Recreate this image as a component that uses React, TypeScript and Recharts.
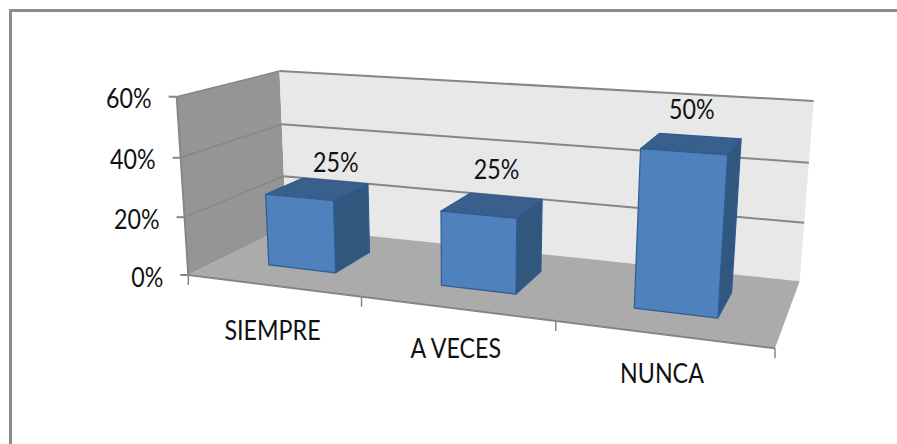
import React from "react";
import { BarChart, Bar, XAxis, YAxis } from "recharts";

const categories = ["SIEMPRE", "A VECES", "NUNCA"];
const percents = [25, 25, 50];
const valueTicks = [0, 20, 40, 60];

const data = categories.map((name, i) => ({ name, percent: percents[i] }));

const WIDTH = 897;
const HEIGHT = 444;
const FONT = "Lato, 'Liberation Sans', sans-serif";
const LINE = "#868686";

// flat plot rectangle handed to Recharts; everything is then bent into the 3D box
const PLOT = { left: 200, top: 60, width: 540, height: 240 };

// perspective box: screen position and homogeneous weight of each axis end
const ORIGIN = { x: 188.3, y: 275 };
const END_U = { x: 775, y: 348.3, k: 0.838 };
const END_V = { x: 176.7, y: 96.7, k: 0.96 };
const END_W = { x: 286, y: 227, k: 1.15 };

// bar depth inside the box (gap depth 150%)
const BAR_FRONT = 0.3;
const BAR_BACK = 0.7;

// hand placed text offsets, one per category
const labelNudge = [
  { dx: 18, dy: -27 },
  { dx: 4, dy: -36 },
  { dx: 0, dy: -34 },
];
const categoryDrop = [45, 40, 39];

function project(u: number, v: number, w: number) {
  const o = 1 - u - v - w;
  const ku = u * END_U.k;
  const kv = v * END_V.k;
  const kw = w * END_W.k;
  const z = o + ku + kv + kw;
  return {
    x: (o * ORIGIN.x + ku * END_U.x + kv * END_V.x + kw * END_W.x) / z,
    y: (o * ORIGIN.y + ku * END_U.y + kv * END_V.y + kw * END_W.y) / z,
  };
}

const toU = (x: number) => (x - PLOT.left) / PLOT.width;
const toV = (y: number) => (PLOT.top + PLOT.height - y) / PLOT.height;

function quad(points: [number, number, number][]) {
  return points
    .map(([u, v, w]) => {
      const p = project(u, v, w);
      return `${p.x},${p.y}`;
    })
    .join(" ");
}

function Edge({ from, to, width = 2 }: { from: number[]; to: number[]; width?: number }) {
  const a = project(from[0], from[1], from[2]);
  const b = project(to[0], to[1], to[2]);
  return <line x1={a.x} y1={a.y} x2={b.x} y2={b.y} stroke={LINE} strokeWidth={width} />;
}

// the Calibri style text runs narrower and taller than Lato
function Label({ x, y, anchor, children }: { x: number; y: number; anchor: "middle" | "end"; children: React.ReactNode }) {
  return (
    <text
      transform={`translate(${x} ${y}) scale(0.93 1.1)`}
      dy="0.35em"
      textAnchor={anchor}
      fontFamily={FONT}
      fontSize={25}
      fill="#111"
    >
      {children}
    </text>
  );
}

// side wall, back wall, floor and their grid lines
function Room() {
  const top = valueTicks[valueTicks.length - 1];
  return (
    <g>
      <polygon points={quad([[0, 0, 0], [0, 1, 0], [0, 1, 1], [0, 0, 1]])} fill="#959595" />
      <polygon points={quad([[0, 0, 1], [0, 1, 1], [1, 1, 1], [1, 0, 1]])} fill="#E8E8E8" />
      <polygon points={quad([[0, 0, 0], [0, 0, 1], [1, 0, 1], [1, 0, 0]])} fill="#ABABAB" />
      {valueTicks
        .filter((t) => t > 0)
        .map((t) => (
          <g key={t}>
            <Edge from={[0, t / top, 0]} to={[0, t / top, 1]} width={1.5} />
            <Edge from={[0, t / top, 1]} to={[1, t / top, 1]} />
          </g>
        ))}
      <Edge from={[0, 0, 0]} to={[1, 0, 0]} />
      <Edge from={[0, 0, 0]} to={[0, 1, 0]} />
      {[0, 1, 2, 3].map((i) => {
        const p = project(i / 3, 0, 0);
        return <line key={i} x1={p.x} y1={p.y} x2={p.x} y2={p.y + 10} stroke={LINE} strokeWidth={1.5} />;
      })}
    </g>
  );
}

function Bar3D(props: any) {
  const { x, y, width, height } = props;
  const u0 = toU(x);
  const u1 = toU(x + width);
  const v = toV(y);
  const bottom = toV(y + height);
  const f = BAR_FRONT;
  const b = BAR_BACK;
  return (
    <g stroke="#2F5C8F" strokeWidth={1.2} strokeLinejoin="round">
      <polygon points={quad([[u1, bottom, f], [u1, v, f], [u1, v, b], [u1, bottom, b]])} fill="#31577F" />
      <polygon points={quad([[u0, v, f], [u0, v, b], [u1, v, b], [u1, v, f]])} fill="#395F8D" />
      <polygon points={quad([[u0, bottom, f], [u0, v, f], [u1, v, f], [u1, bottom, f]])} fill="#4F81BD" />
    </g>
  );
}

function BarValue(props: any) {
  const { x, y, width, value, index } = props;
  const p = project(toU(x + width / 2), toV(y), (BAR_FRONT + BAR_BACK) / 2);
  const nudge = labelNudge[index];
  return (
    <Label x={p.x + nudge.dx} y={p.y + nudge.dy} anchor="middle">
      {value}%
    </Label>
  );
}

function ValueTick(props: any) {
  const { y, payload } = props;
  const p = project(0, toV(y), 0);
  return (
    <g>
      <line x1={p.x - 8} y1={p.y} x2={p.x} y2={p.y} stroke={LINE} strokeWidth={2} />
      <Label x={p.x - 25} y={p.y + 2} anchor="end">
        {payload.value}%
      </Label>
    </g>
  );
}

function CategoryTick(props: any) {
  const { x, payload, index } = props;
  const p = project(toU(x), 0, 0);
  return (
    <Label x={p.x} y={p.y + categoryDrop[index]} anchor="middle">
      {payload.value}
    </Label>
  );
}

export default function App() {
  return (
    <div style={{ position: "absolute", left: 0, top: 0, width: WIDTH, height: HEIGHT, background: "#fff", overflow: "hidden" }}>
      <div
        style={{
          position: "absolute",
          left: 9,
          top: 9,
          right: 0,
          bottom: 0,
          borderLeft: "3px solid #8C8C8C",
          borderTop: "3px solid #8C8C8C",
        }}
      />
      <div style={{ position: "absolute", left: 0, top: 0 }}>
        <BarChart
          width={WIDTH}
          height={HEIGHT}
          data={data}
          barCategoryGap="30%"
          margin={{
            left: PLOT.left - 60,
            top: PLOT.top,
            right: WIDTH - PLOT.left - PLOT.width,
            bottom: HEIGHT - PLOT.top - PLOT.height - 30,
          }}
        >
          <Room />
          <XAxis dataKey="name" height={30} interval={0} axisLine={false} tickLine={false} tick={<CategoryTick />} />
          <YAxis
            width={60}
            domain={[0, 60]}
            ticks={valueTicks}
            axisLine={false}
            tickLine={false}
            tick={<ValueTick />}
          />
          <Bar
            dataKey="percent"
            isAnimationActive={false}
            shape={(p: any) => <Bar3D {...p} />}
            label={(p: any) => <BarValue {...p} />}
          />
        </BarChart>
      </div>
    </div>
  );
}
